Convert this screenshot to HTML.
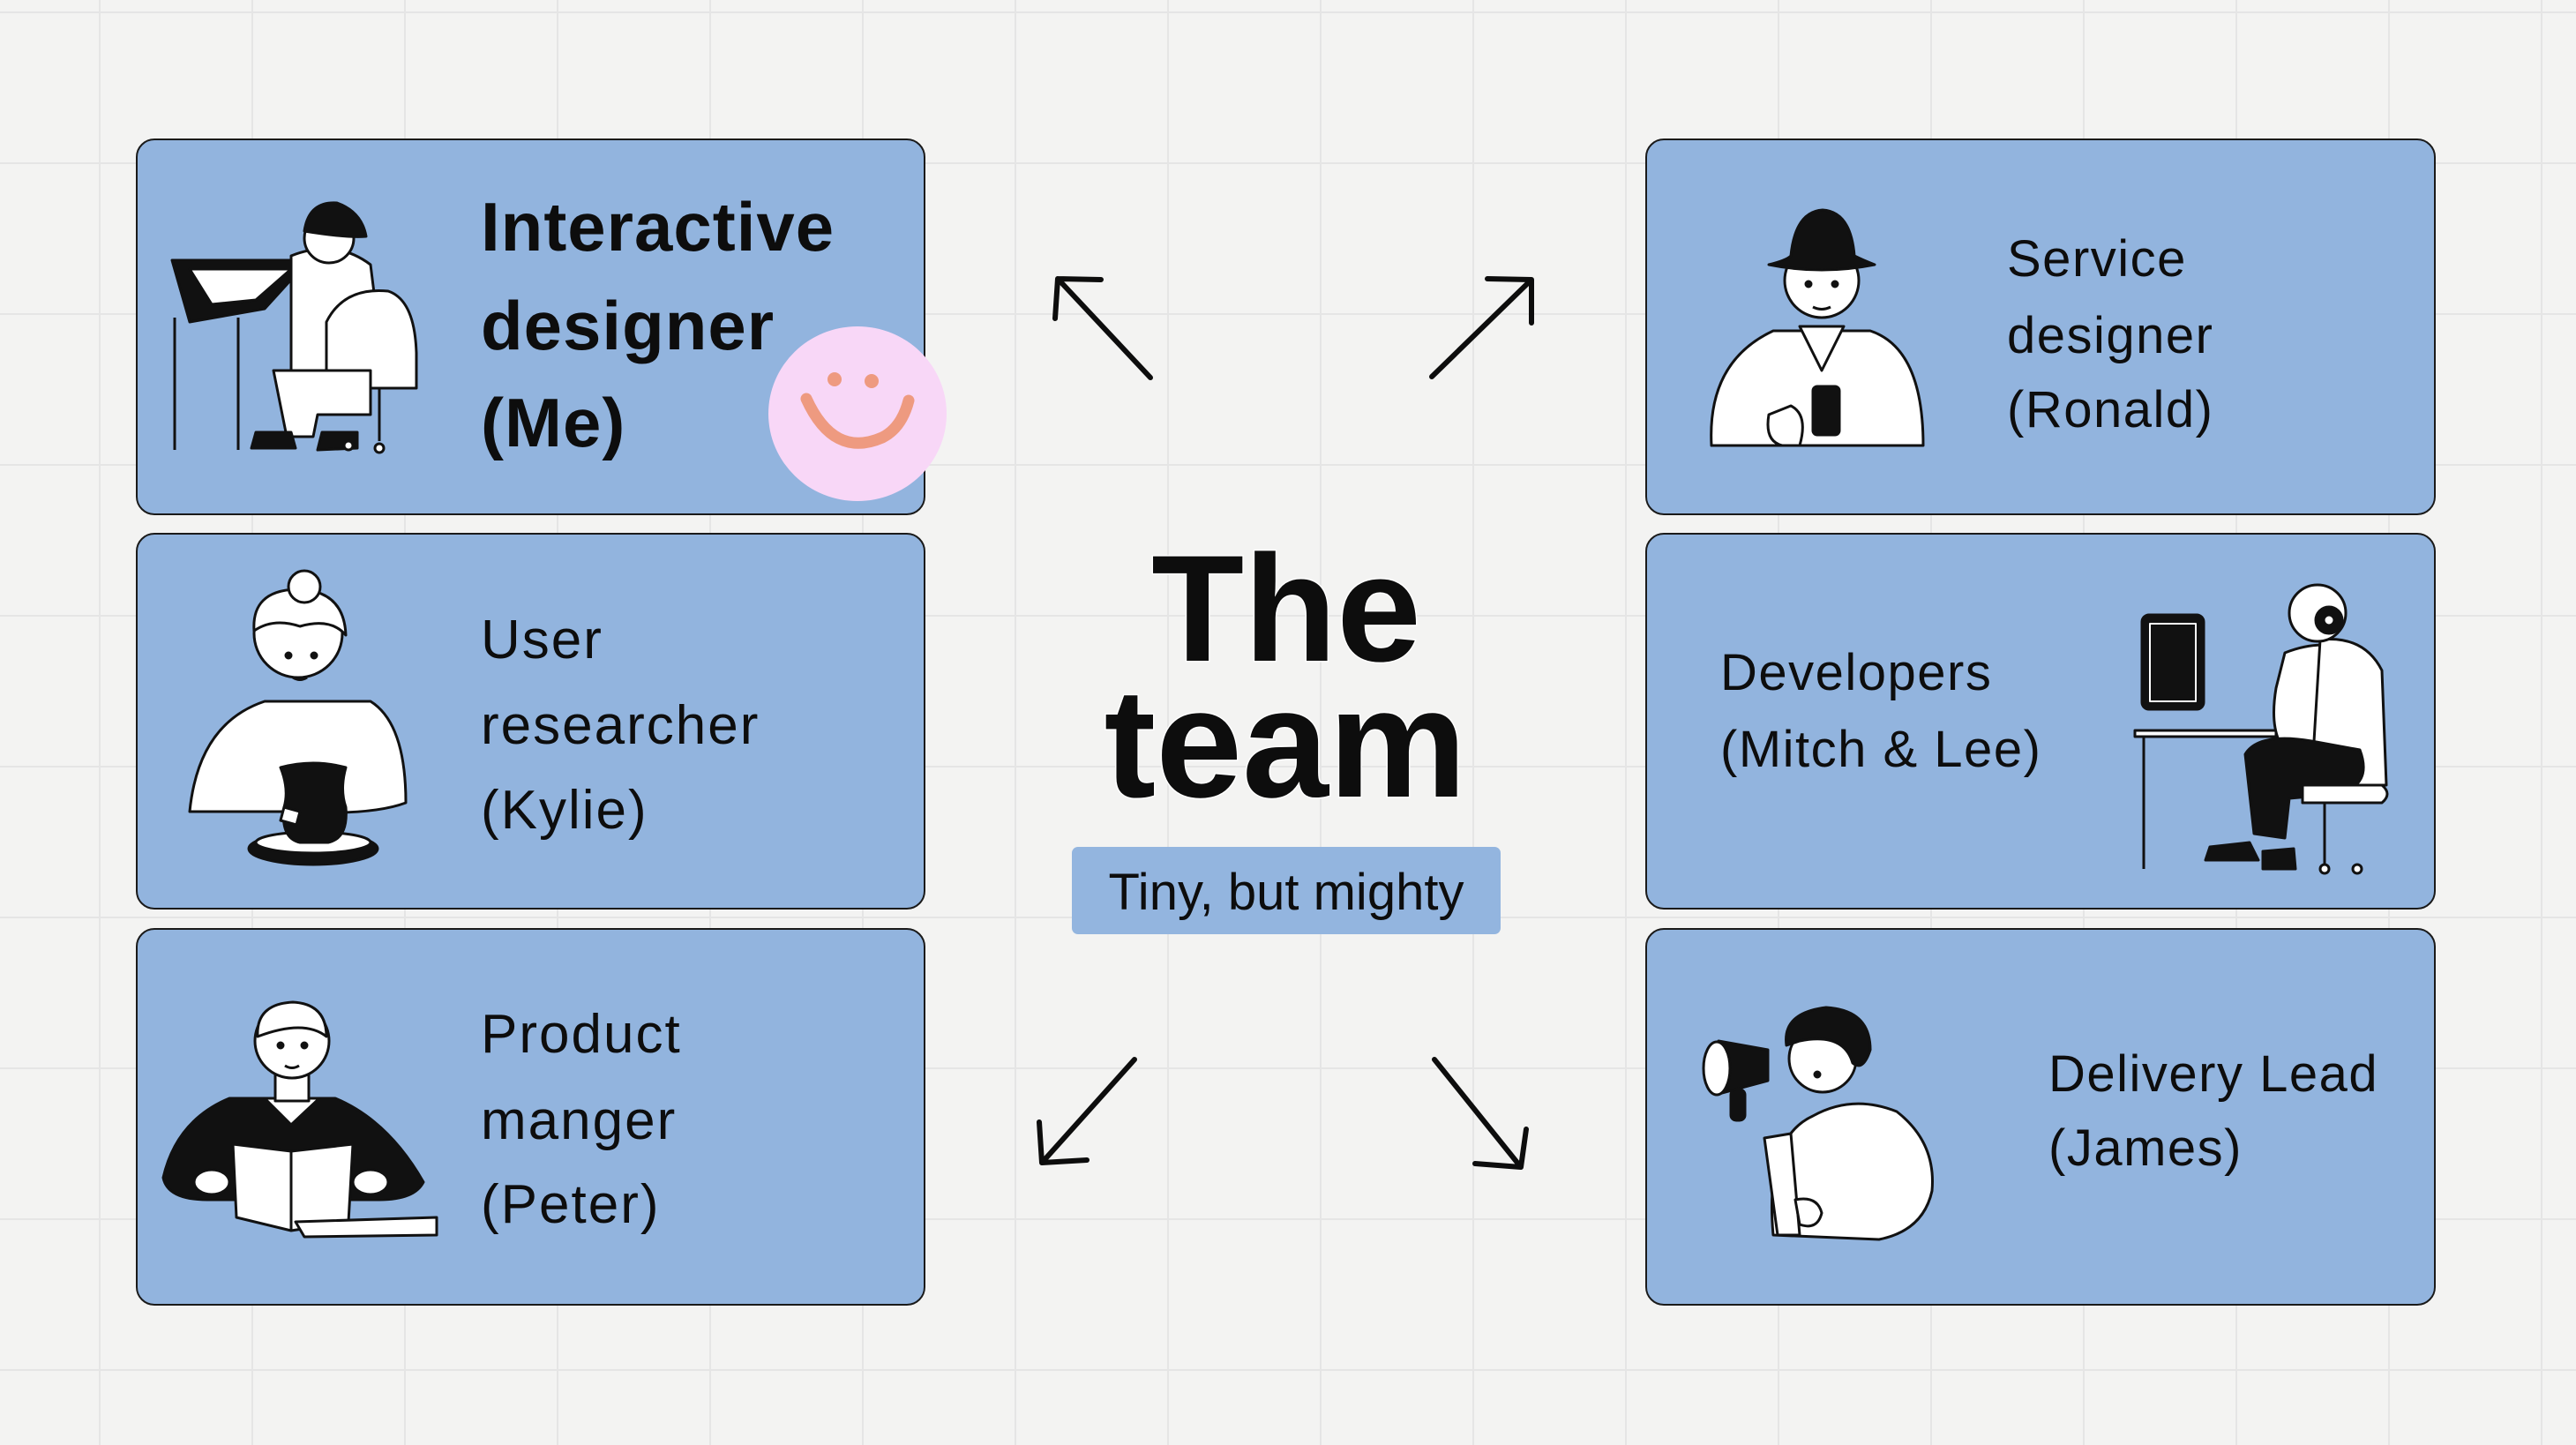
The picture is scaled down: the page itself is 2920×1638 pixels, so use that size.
<!DOCTYPE html>
<html><head><meta charset="utf-8"><style>
html,body{margin:0;padding:0;background:#f3f3f2;}
svg{display:block}
.t{font-family:"Liberation Sans",sans-serif;fill:#0d0d0d}
</style></head><body>
<svg width="2920" height="1638" viewBox="0 0 2920 1638" xmlns="http://www.w3.org/2000/svg">
<defs>
<pattern id="g" x="112" y="13" width="173" height="171" patternUnits="userSpaceOnUse">
<path d="M0 0V171M0 0H173" stroke="#e5e5e5" stroke-width="4" fill="none"/>
</pattern>
</defs>
<rect width="2920" height="1638" fill="#f3f3f2"/>
<rect width="2920" height="1638" fill="url(#g)"/>

<!-- boxes -->
<g fill="#92b4de" stroke="#1a1a1a" stroke-width="2">
<rect x="155" y="158" width="893" height="425" rx="20"/>
<rect x="155" y="605" width="893" height="425" rx="20"/>
<rect x="155" y="1053" width="893" height="426" rx="20"/>
<rect x="1866" y="158" width="894" height="425" rx="20"/>
<rect x="1866" y="605" width="894" height="425" rx="20"/>
<rect x="1866" y="1053" width="894" height="426" rx="20"/>
</g>

<!-- smiley -->
<ellipse cx="972" cy="469" rx="101" ry="99" fill="#f8d7f7"/>
<circle cx="946" cy="430" r="8" fill="#ee9a80"/>
<circle cx="988" cy="432" r="8" fill="#ee9a80"/>
<path d="M914 452 Q945 520 1000 496 Q1022 485 1030 454" fill="none" stroke="#ee9a80" stroke-width="13" stroke-linecap="round"/>

<!-- arrows -->
<g stroke="#0d0d0d" stroke-width="6" stroke-linecap="round" fill="none">
<path d="M1304 428L1199 316M1199 316L1248 317M1199 316L1196 361"/>
<path d="M1623 427L1736 317M1736 317L1686 316M1736 317L1736 366"/>
<path d="M1286 1201L1181 1318M1181 1318L1178 1272M1181 1318L1232 1315"/>
<path d="M1626 1201L1724 1323M1724 1323L1730 1280M1724 1323L1672 1319"/>
</g>

<!-- title -->
<text class="t" x="1458" y="749" font-size="172" font-weight="bold" text-anchor="middle" stroke="#fff" stroke-width="3" paint-order="stroke">The</text>
<text class="t" x="1457" y="903" font-size="176" font-weight="bold" text-anchor="middle" stroke="#fff" stroke-width="3" paint-order="stroke">team</text>
<rect x="1215" y="960" width="486" height="99" rx="7" fill="#93b5df"/>
<text class="t" x="1458" y="1031" font-size="58" text-anchor="middle">Tiny, but mighty</text>

<!-- texts -->
<g class="t" font-size="78" font-weight="bold" letter-spacing="1">
<text x="545" y="284">Interactive</text>
<text x="545" y="396">designer</text>
<text x="545" y="506">(Me)</text>
</g>
<g class="t" font-size="62" letter-spacing="2">
<text x="545" y="746">User</text>
<text x="545" y="843">researcher</text>
<text x="545" y="939">(Kylie)</text>
<text x="545" y="1193">Product</text>
<text x="545" y="1291">manger</text>
<text x="545" y="1386">(Peter)</text>
</g>
<g class="t" font-size="58" letter-spacing="1.5">
<text x="2275" y="313">Service</text>
<text x="2275" y="400">designer</text>
<text x="2275" y="484">(Ronald)</text>
<text x="1950" y="782">Developers</text>
<text x="1950" y="869">(Mitch &amp; Lee)</text>
<text x="2322" y="1237">Delivery Lead</text>
<text x="2322" y="1321">(James)</text>
</g>

<!-- illustrations -->
<g stroke="#111" stroke-width="3" stroke-linejoin="round">
<path d="M195 295 L350 295 L300 350 L215 365 Z" fill="#111"/>
<path d="M215 305 L330 305 L290 340 L240 345 Z" fill="#fff"/>
<line x1="198" y1="360" x2="198" y2="510" fill="none"/>
<line x1="270" y1="360" x2="270" y2="510" fill="none"/>
<path d="M330 290 Q380 270 420 300 L435 420 L330 420 Z" fill="#fff"/>
<path d="M370 365 Q390 325 440 330 Q470 340 472 400 L472 440 L370 440 Z" fill="#fff"/>
<path d="M310 420 L420 420 L420 470 L360 470 L355 495 L325 495 Z" fill="#fff"/>
<path d="M290 490 L330 490 L335 508 L285 508 Z" fill="#111"/>
<path d="M365 490 L405 490 L405 508 L360 510 Z" fill="#111"/>
<line x1="430" y1="440" x2="430" y2="500" fill="none"/>
<circle cx="395" cy="505" r="5" fill="#fff"/><circle cx="430" cy="508" r="5" fill="#fff"/>
<circle cx="373" cy="270" r="28" fill="#fff"/>
<path d="M345 262 Q350 228 382 230 Q410 240 415 268 Q395 270 345 262 Z" fill="#111"/>

<path d="M215 920 Q225 820 300 795 L420 795 Q460 820 460 910 Q420 925 330 920 Z" fill="#fff"/>
<circle cx="338" cy="718" r="50" fill="#fff"/>
<path d="M288 715 Q285 670 335 668 Q390 668 392 720 Q375 700 340 710 Q310 700 288 715 Z" fill="#fff"/>
<circle cx="345" cy="665" r="18" fill="#fff"/>
<circle cx="327" cy="743" r="3" fill="#111"/><circle cx="356" cy="743" r="3" fill="#111"/>
<path d="M332 768 Q340 773 348 768" fill="none"/>
<ellipse cx="355" cy="962" rx="73" ry="18" fill="#111"/>
<ellipse cx="355" cy="955" rx="65" ry="12" fill="#fff"/>
<path d="M318 870 Q355 860 392 870 Q385 895 392 915 Q395 950 372 955 L340 955 Q318 950 322 915 Q328 895 318 870 Z" fill="#111"/>
<path d="M322 915 L340 920 L336 935 L318 930 Z" fill="#fff"/>

<path d="M185 1335 Q200 1270 260 1245 L380 1245 Q440 1270 480 1340 Q470 1360 430 1360 L235 1360 Q190 1360 185 1335 Z" fill="#111"/>
<path d="M300 1245 L330 1275 L362 1245 Z" fill="#fff"/>
<path d="M312 1208 L312 1248 L350 1248 L350 1208 Z" fill="#fff"/>
<circle cx="331" cy="1180" r="42" fill="#fff"/>
<path d="M292 1175 Q290 1138 332 1136 Q370 1138 370 1175 Q345 1155 292 1175 Z" fill="#fff"/>
<circle cx="318" cy="1185" r="3" fill="#111"/><circle cx="345" cy="1185" r="3" fill="#111"/>
<path d="M323 1208 Q331 1213 339 1208" fill="none"/>
<path d="M264 1297 L330 1305 L400 1297 L395 1385 L330 1395 L268 1380 Z" fill="#fff"/>
<line x1="330" y1="1305" x2="330" y2="1395" fill="none"/>
<path d="M335 1385 L495 1380 L495 1400 L345 1402 Z" fill="#fff"/>
<ellipse cx="240" cy="1340" rx="20" ry="14" fill="#fff"/>
<ellipse cx="420" cy="1340" rx="20" ry="14" fill="#fff"/>

<path d="M1940 505 Q1935 410 2010 375 L2120 375 Q2180 395 2180 505 Z" fill="#fff"/>
<path d="M2040 370 L2065 420 L2090 370 Z" fill="#fff"/>
<circle cx="2065" cy="318" r="42" fill="#fff"/>
<path d="M2005 300 Q2025 295 2030 290 Q2035 240 2066 238 Q2098 240 2102 290 Q2112 295 2125 300 Q2065 312 2005 300 Z" fill="#111"/>
<circle cx="2050" cy="322" r="3" fill="#111"/><circle cx="2080" cy="322" r="3" fill="#111"/>
<path d="M2055 348 Q2065 353 2075 348" fill="none"/>
<rect x="2055" y="438" width="30" height="55" rx="5" fill="#111"/>
<path d="M2005 470 Q2000 500 2020 505 L2040 505 Q2050 470 2030 460 Z" fill="#fff"/>

<rect x="2428" y="697" width="70" height="107" rx="8" fill="#111"/>
<rect x="2437" y="707" width="52" height="88" fill="none" stroke="#fff" stroke-width="2"/>
<path d="M2420 828 L2580 828 L2580 835 L2420 835 Z" fill="#fff"/>
<path d="M2430 835 L2430 985" fill="none"/>
<path d="M2590 740 Q2640 720 2680 745 Q2705 780 2700 850 L2600 860 Q2570 840 2580 780 Z" fill="#fff"/>
<path d="M2630 725 Q2680 720 2700 760 L2705 890 L2620 890 Z" fill="#fff"/>
<path d="M2545 855 Q2560 830 2620 840 L2675 850 Q2690 890 2650 900 L2595 905 L2590 950 L2555 945 Z" fill="#111"/>
<path d="M2610 890 L2700 890 Q2712 900 2700 910 L2610 910 Z" fill="#fff"/>
<path d="M2505 960 L2550 955 L2560 975 L2500 975 Z" fill="#111"/>
<path d="M2565 965 L2600 962 L2602 985 L2565 985 Z" fill="#111"/>
<circle cx="2627" cy="695" r="32" fill="#fff"/>
<circle cx="2640" cy="703" r="15" fill="#111"/><circle cx="2640" cy="703" r="6" fill="#fff"/>
<line x1="2635" y1="910" x2="2635" y2="980" fill="none"/>
<circle cx="2635" cy="985" r="5" fill="#fff"/><circle cx="2672" cy="985" r="5" fill="#fff"/>

<path d="M2010 1400 Q2000 1290 2055 1265 Q2100 1240 2150 1260 Q2195 1295 2190 1350 Q2180 1395 2130 1405 Z" fill="#fff"/>
<path d="M2000 1290 L2015 1400 L2040 1400 L2030 1285 Z" fill="#fff"/>
<circle cx="2066" cy="1200" r="38" fill="#fff"/>
<path d="M2025 1185 Q2020 1148 2070 1142 Q2120 1145 2120 1190 Q2112 1215 2100 1205 Q2090 1170 2040 1180 Z" fill="#111"/>
<circle cx="2060" cy="1218" r="3" fill="#111"/>
<path d="M1948 1180 L2004 1190 L2004 1225 L1948 1240 Z" fill="#111"/>
<ellipse cx="1946" cy="1211" rx="15" ry="30" fill="#fff"/>
<rect x="1962" y="1235" width="16" height="35" rx="6" fill="#111"/>
<path d="M2035 1360 Q2060 1355 2065 1375 Q2060 1395 2040 1388 Z" fill="#fff"/>
</g>
</svg>
</body></html>
